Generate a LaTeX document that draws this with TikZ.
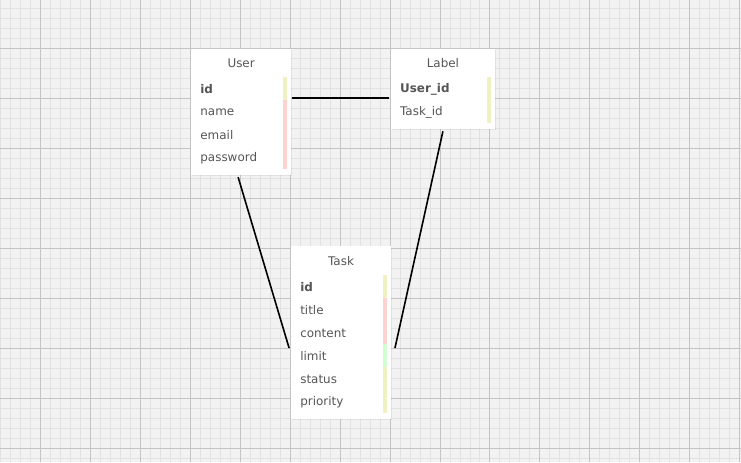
\documentclass[tikz,border=0pt]{standalone}
\usepackage{fontspec}
\setmainfont{DejaVu Sans}
\usetikzlibrary{positioning,shadows}
\definecolor{paper}{HTML}{F2F2F2}
\definecolor{minorgrid}{HTML}{E2E2E2}
\definecolor{majorgrid}{HTML}{C4C4C4}
\definecolor{txt}{HTML}{555555}
\definecolor{keybar}{HTML}{F0F0C0}
\definecolor{strbar}{HTML}{FFD2D2}
\definecolor{datebar}{HTML}{D2FFD2}
\begin{document}
\begin{tikzpicture}[x=1bp ,y=-1bp ,
table/.style ={ anchor=north west ,fill=white ,inner sep=0 ,
drop shadow={shadow xshift=1bp ,shadow yshift=-1bp ,opacity=.15}},
title/.style ={ text=txt ,font=\fontsize{12}{14}\selectfont},
field/.style ={ text=txt ,anchor=west ,inner sep=0 ,font=\fontsize{12}{14}\selectfont},
link/.style ={ line width=1.6bp}]
% background grid
\fill[paper] (0,0) rectangle (741,462);
\foreach \x in {0,10,...,740} \draw[minorgrid, line width=.8bp] (\x,0) -- (\x,462);
\foreach \y in {8,18,...,458} \draw[minorgrid, line width=.8bp] (0,\y) -- (741,\y);
\foreach \x in {40,90,...,740} \draw[majorgrid, line width=.8bp] (\x,0) -- (\x,462);
\foreach \y in {48,98,...,458} \draw[majorgrid, line width=.8bp] (0,\y) -- (741,\y);
% tables
\node[table, minimum width=100bp, minimum height=127bp] (user) at (191,48) {};
\node[table, minimum width=104bp, minimum height=81bp] (label) at (391,48) {};
\node[table, minimum width=100bp, minimum height=173bp] (task) at (291,246) {};
\node[title] (user-t) at (241,63) {User};
\node[title] (label-t) at (443,63) {Label};
\node[title] (task-t) at (341,261) {Task};
% User fields
\node[field] (user-id) at (200,89) {\textbf{id}};
\node[field] (user-name) at (200,112) {name};
\node[field] (user-email) at (200,135) {email};
\node[field] (user-pw) at (200,158) {password};
\fill[keybar] (283,77) rectangle (287,100);
\fill[strbar] (283,100) rectangle (287,169);
% Label fields
\node[field] (label-uid) at (400,89) {\textbf{User\_id}};
\node[field] (label-tid) at (400,112) {Task\_id};
\fill[keybar] (487,77) rectangle (491,123);
% Task fields
\foreach \f/\name [count=\i from 0] in {tid/\textbf{id},title/title,content/content,limit/limit,status/status,prio/priority}
\node[field] (task-\f) at (300,287+23*\i) {\name};
\fill[keybar] (383,275) rectangle (387,298);
\fill[strbar] (383,298) rectangle (387,344);
\fill[datebar] (383,344) rectangle (387,367);
\fill[keybar] (383,367) rectangle (387,413);
% relations
\coordinate (u-r) at (292,98);
\coordinate (u-b) at (238,177);
\coordinate (l-l) at (389,98);
\coordinate (l-b) at (443,131);
\coordinate (t-l) at (289,348);
\coordinate (t-r) at (395,348);
\draw[link] (u-r) -- (l-l);
\draw[link] (u-b) -- (t-l);
\draw[link] (l-b) -- (t-r);
\end{tikzpicture}
\end{document}
